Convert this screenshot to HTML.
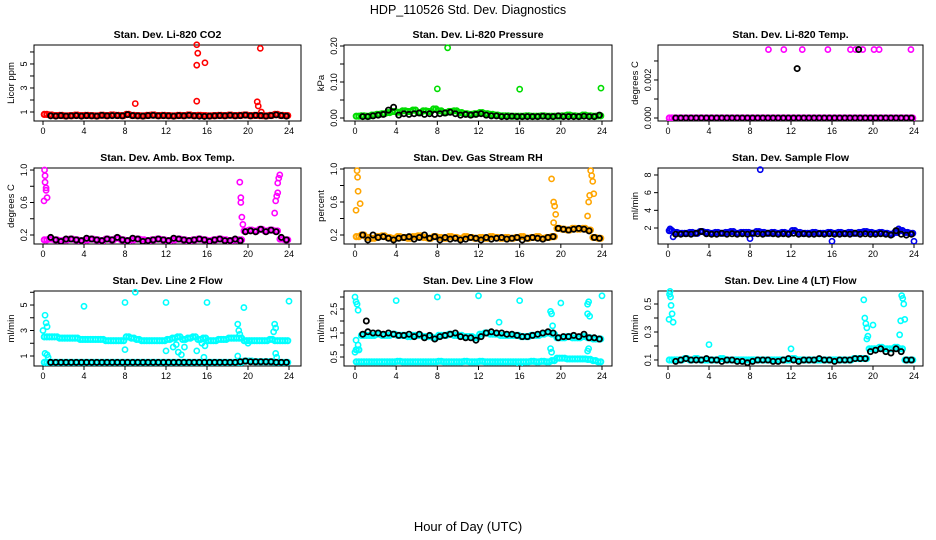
<!DOCTYPE html>
<html><head><meta charset="utf-8"><title>HDP_110526 Std. Dev. Diagnostics</title>
<style>
html,body{margin:0;padding:0;background:#fff;}
svg{display:block;font-family:"Liberation Sans",Arial,sans-serif;}
</style></head>
<body>
<svg id="chart" width="936" height="540" viewBox="0 0 936 540" xmlns="http://www.w3.org/2000/svg">
<text x="468" y="14" text-anchor="middle" font-size="12.5">HDP_110526  Std. Dev. Diagnostics</text>
<text x="468" y="531" text-anchor="middle" font-size="13">Hour of Day (UTC)</text>
</svg>
<script>
const hours=[0.25,0.75,1.25,1.75,2.25,2.75,3.25,3.75,4.25,4.75,5.25,5.75,6.25,6.75,7.25,7.75,8.25,8.75,9.25,9.75,10.25,10.75,11.25,11.75,12.25,12.75,13.25,13.75,14.25,14.75,15.25,15.75,16.25,16.75,17.25,17.75,18.25,18.75,19.25,19.75,20.25,20.75,21.25,21.75,22.25,22.75,23.25,23.75];
const xTicks=[0,4,8,12,16,20,24];

const co2Base=[0.8,0.75,0.7,0.72,0.68,0.7,0.74,0.7,0.72,0.7,0.68,0.73,0.7,0.75,0.72,0.7,0.8,0.72,0.7,0.68,0.72,0.75,0.7,0.72,0.7,0.68,0.72,0.7,0.75,0.7,0.72,0.7,0.68,0.7,0.72,0.7,0.74,0.7,0.72,0.75,0.7,0.72,0.7,0.68,0.72,0.8,0.72,0.7];
const co2Mean=[0.7,0.68,0.66,0.7,0.66,0.68,0.7,0.66,0.7,0.68,0.66,0.72,0.68,0.7,0.7,0.68,0.78,0.7,0.68,0.66,0.7,0.72,0.68,0.7,0.68,0.66,0.7,0.68,0.72,0.68,0.66,0.64,0.66,0.68,0.7,0.68,0.72,0.68,0.7,0.74,0.68,0.72,0.7,0.66,0.7,0.76,0.7,0.66];
const co2OutX=[9.0,15.0,15.1,15.0,15.8,15.0,20.9,21.0,21.2,21.3];
const co2OutY=[1.7,6.6,5.9,4.9,5.1,1.9,1.85,1.5,6.3,1.0];

const presBase=[0.005,0.006,0.005,0.008,0.01,0.012,0.015,0.018,0.016,0.02,0.018,0.022,0.015,0.02,0.018,0.025,0.02,0.015,0.018,0.02,0.015,0.012,0.01,0.012,0.015,0.012,0.01,0.008,0.006,0.006,0.005,0.005,0.005,0.006,0.005,0.005,0.006,0.005,0.005,0.005,0.006,0.008,0.006,0.005,0.008,0.006,0.005,0.006];
const presMean=[0.004,0.004,0.004,0.006,0.008,0.01,0.022,0.03,0.008,0.012,0.01,0.012,0.014,0.01,0.012,0.01,0.012,0.014,0.016,0.012,0.008,0.01,0.008,0.01,0.012,0.008,0.006,0.006,0.004,0.004,0.005,0.004,0.004,0.004,0.004,0.004,0.005,0.004,0.004,0.006,0.004,0.004,0.004,0.004,0.005,0.004,0.004,0.008];
const presOutX=[9.0,8.0,16.0,23.9];
const presOutY=[0.195,0.081,0.08,0.083];

const tempBase=[0,0,0,0,0,0,0,0,0,0,0,0,0,0,0,0,0,0,0,0,0,0,0,0,0,0,0,0,0,0,0,0,0,0,0,0,0,0,0,0,0,0,0,0,0,0,0,0];
const tempMean=[0,0,0,0,0,0,0,0,0,0,0,0,0,0,0,0,0,0,0,0,0,0,0,0,0,0,0,0,0,0,0,0,0,0,0,0,0,0,0,0,0,0,0,0,0,0,0,0];
const tempOutX=[9.8,11.3,13.1,15.6,17.8,18.3,19.0,20.1,20.6,23.7];
const tempOutY=[0.0036,0.0036,0.0036,0.0036,0.0036,0.0036,0.0036,0.0036,0.0036,0.0036];
const tempMeanOutX=[12.6,18.6];
const tempMeanOutY=[0.0026,0.0036];

const ambBase=[0.14,0.15,0.14,0.13,0.14,0.15,0.14,0.13,0.14,0.15,0.14,0.13,0.15,0.14,0.16,0.14,0.13,0.14,0.15,0.14,0.13,0.14,0.15,0.14,0.13,0.14,0.15,0.14,0.13,0.14,0.15,0.14,0.13,0.14,0.15,0.14,0.13,0.14,0.14,0.25,0.26,0.25,0.27,0.25,0.26,0.25,0.15,0.14];
const ambMean=[0.14,0.17,0.14,0.12,0.15,0.15,0.14,0.13,0.16,0.15,0.14,0.13,0.15,0.14,0.17,0.14,0.13,0.16,0.15,0.12,0.13,0.14,0.15,0.14,0.13,0.16,0.15,0.14,0.13,0.14,0.15,0.14,0.12,0.14,0.15,0.13,0.13,0.15,0.13,0.24,0.25,0.24,0.27,0.24,0.26,0.24,0.17,0.14];
const ambOutX=[0.1,0.15,0.2,0.2,0.3,0.3,0.4,19.2,19.3,19.3,19.4,19.5,22.6,22.7,22.8,22.9,22.9,23.0,23.1];
const ambOutY=[0.62,1.0,0.93,0.85,0.75,0.78,0.66,0.85,0.66,0.6,0.42,0.33,0.47,0.62,0.68,0.72,0.84,0.9,0.94];

const rhBase=[0.18,0.2,0.17,0.16,0.18,0.19,0.17,0.16,0.18,0.17,0.16,0.18,0.19,0.17,0.16,0.18,0.17,0.16,0.18,0.17,0.16,0.18,0.17,0.16,0.17,0.16,0.18,0.17,0.16,0.17,0.16,0.17,0.18,0.16,0.17,0.18,0.16,0.17,0.18,0.28,0.27,0.26,0.28,0.27,0.28,0.26,0.17,0.16];
const rhMean=[0.17,0.2,0.14,0.2,0.17,0.18,0.16,0.14,0.16,0.17,0.18,0.15,0.17,0.2,0.16,0.18,0.14,0.17,0.15,0.16,0.14,0.15,0.17,0.16,0.14,0.17,0.15,0.16,0.17,0.15,0.16,0.17,0.14,0.16,0.17,0.16,0.15,0.17,0.18,0.28,0.27,0.26,0.27,0.28,0.27,0.25,0.17,0.16];
const rhOutX=[0.1,0.2,0.25,0.3,0.5,19.1,19.3,19.4,19.5,19.3,22.6,22.7,22.8,22.9,23.0,23.1,23.2];
const rhOutY=[0.5,0.98,0.9,0.73,0.58,0.88,0.6,0.55,0.45,0.35,0.43,0.6,0.68,0.98,0.92,0.85,0.7];

const flowBase=[1.7,1.5,1.4,1.4,1.5,1.4,1.6,1.5,1.4,1.5,1.4,1.5,1.6,1.4,1.5,1.5,1.4,1.6,1.5,1.4,1.5,1.4,1.5,1.4,1.7,1.5,1.4,1.4,1.5,1.4,1.4,1.5,1.4,1.5,1.4,1.5,1.4,1.5,1.6,1.5,1.4,1.5,1.4,1.3,1.5,1.7,1.5,1.4];
const flowMean=[1.6,1.3,1.3,1.35,1.3,1.4,1.6,1.35,1.3,1.3,1.4,1.3,1.35,1.3,1.35,1.3,1.4,1.35,1.3,1.4,1.35,1.3,1.35,1.3,1.4,1.3,1.35,1.3,1.3,1.35,1.3,1.35,1.3,1.3,1.35,1.3,1.4,1.3,1.35,1.3,1.3,1.35,1.3,1.2,1.7,1.3,1.2,1.3];
const flowOutX=[9.0,8.0,16.0,24.0,0.2,22.5,0.5];
const flowOutY=[8.6,0.8,0.5,0.5,1.9,1.9,1.0];

const line2Base=[2.5,2.5,2.5,2.4,2.4,2.4,2.4,2.3,2.3,2.3,2.3,2.3,2.2,2.2,2.2,2.2,2.5,2.4,2.3,2.2,2.2,2.2,2.2,2.2,2.3,2.4,2.5,2.3,2.4,2.5,2.3,2.4,2.2,2.2,2.3,2.3,2.4,2.4,2.4,2.2,2.2,2.2,2.2,2.2,2.3,2.2,2.2,2.2];
const line2Low=[0.5,0.5,0.5,0.5,0.5,0.5,0.5,0.5,0.5,0.5,0.5,0.5,0.5,0.5,0.5,0.5,0.5,0.5,0.5,0.5,0.5,0.5,0.5,0.5,0.5,0.5,0.5,0.5,0.5,0.5,0.5,0.5,0.5,0.5,0.5,0.5,0.5,0.5,0.5,0.6,0.6,0.55,0.55,0.55,0.55,0.5,0.5,0.5];
const line2Mean=[0.5,0.5,0.5,0.5,0.5,0.5,0.5,0.5,0.5,0.5,0.5,0.5,0.5,0.5,0.5,0.5,0.5,0.5,0.5,0.5,0.5,0.5,0.5,0.5,0.5,0.5,0.5,0.5,0.5,0.5,0.5,0.5,0.5,0.5,0.5,0.5,0.5,0.5,0.55,0.6,0.55,0.55,0.55,0.55,0.55,0.5,0.5,0.5];
const line2OutX=[0.0,0.2,0.3,0.4,0.2,0.4,0.5,4.0,8.0,9.0,8.0,12.0,12.0,13.0,13.5,13.8,15.0,15.5,15.8,16.0,15.7,19.0,19.1,19.2,19.0,19.6,20.0,22.5,22.6,22.7,22.7,22.8,24.0,12.7,13.2];
const line2OutY=[3.0,4.2,3.6,3.3,1.2,1.1,0.9,4.9,5.2,6.0,1.5,5.2,1.4,1.9,1.1,1.7,1.4,2.0,1.8,5.2,0.9,3.5,3.0,2.7,1.0,4.8,2.0,2.9,3.5,3.2,1.2,0.9,5.3,1.7,1.3];

const line3Base=[0.8,1.4,1.4,1.4,1.45,1.4,1.4,1.45,1.4,1.4,1.35,1.4,1.4,1.35,1.35,1.3,1.4,1.4,1.45,1.4,1.4,1.35,1.35,1.3,1.45,1.5,1.45,1.45,1.4,1.4,1.4,1.4,1.35,1.35,1.4,1.4,1.45,1.5,1.45,1.3,1.3,1.35,1.3,1.3,1.35,1.3,1.25,1.25];
const line3Low=[0.3,0.3,0.3,0.3,0.3,0.3,0.3,0.3,0.32,0.3,0.3,0.3,0.3,0.3,0.3,0.3,0.32,0.3,0.3,0.3,0.3,0.32,0.3,0.3,0.32,0.3,0.3,0.3,0.3,0.3,0.3,0.3,0.3,0.3,0.32,0.3,0.32,0.3,0.35,0.45,0.45,0.42,0.42,0.42,0.42,0.4,0.35,0.3];
const line3Mean=[1.3,1.45,1.55,1.5,1.5,1.45,1.5,1.45,1.4,1.4,1.45,1.35,1.45,1.3,1.4,1.25,1.35,1.4,1.45,1.5,1.35,1.3,1.3,1.2,1.35,1.5,1.55,1.5,1.5,1.45,1.45,1.4,1.35,1.35,1.4,1.45,1.5,1.55,1.5,1.3,1.35,1.35,1.4,1.35,1.45,1.3,1.3,1.25];
const line3OutX=[0.0,0.1,0.2,0.3,0.0,0.1,0.3,4.0,8.0,12.0,14.0,16.0,19.0,19.1,19.0,19.1,19.2,20.0,22.6,22.7,22.6,22.8,22.7,22.6,24.0,16.0];
const line3OutY=[3.0,2.8,2.7,2.45,0.7,1.2,1.0,2.85,3.0,3.05,1.95,2.85,2.4,2.3,0.85,0.7,1.8,2.75,2.7,2.8,2.3,2.2,0.85,0.75,3.05,0.12];
const line3MeanOutX=[1.1];
const line3MeanOutY=[2.0];

const line4Base=[0.1,0.1,0.1,0.11,0.1,0.11,0.1,0.1,0.1,0.1,0.11,0.1,0.1,0.1,0.1,0.1,0.1,0.1,0.1,0.1,0.1,0.1,0.1,0.1,0.11,0.1,0.1,0.1,0.1,0.1,0.1,0.1,0.1,0.1,0.1,0.1,0.11,0.11,0.11,0.18,0.18,0.19,0.18,0.18,0.19,0.18,0.1,0.1];
const line4Mean=[0.09,0.09,0.1,0.11,0.1,0.1,0.1,0.11,0.1,0.1,0.09,0.1,0.1,0.09,0.09,0.08,0.09,0.1,0.1,0.1,0.09,0.09,0.1,0.11,0.1,0.09,0.1,0.1,0.1,0.11,0.1,0.1,0.09,0.1,0.1,0.1,0.11,0.11,0.11,0.16,0.17,0.18,0.16,0.15,0.18,0.16,0.1,0.1];
const line4OutX=[0.1,0.15,0.2,0.25,0.3,0.4,0.5,4.0,12.0,19.1,19.2,19.3,19.4,19.5,19.4,20.0,22.6,22.7,22.8,22.9,23.0,23.1];
const line4OutY=[0.39,0.57,0.59,0.55,0.49,0.43,0.37,0.21,0.18,0.53,0.4,0.36,0.33,0.27,0.25,0.35,0.28,0.38,0.56,0.54,0.5,0.39];

const NS="http://www.w3.org/2000/svg";
const svg=document.getElementById('chart');
const cols=[{bx0:34,bx1:301,h0:43,h24:289},{bx0:344,bx1:612,h0:355,h24:602},{bx0:658,bx1:923,h0:668,h24:914}];
const rows=[{by0:45,by1:121},{by0:168,by1:244},{by0:291,by1:366}];

const panels=[
 {name:'co2',title:'Stan. Dev. Li-820 CO2',ylab:'Licor ppm',c:0,r:0,dom:[0.25,6.58],ticks:[1,2,3,4,5,6],labels:[1,3,5],fmt:0,color:'#ff0000',series:[co2Base],mean:co2Mean,ox:co2OutX,oy:co2OutY},
 {name:'pressure',title:'Stan. Dev. Li-820 Pressure',ylab:'kPa',c:1,r:0,dom:[-0.0083,0.2028],ticks:[0,0.05,0.1,0.15,0.2],labels:[0,0.1,0.2],fmt:2,color:'#00dd00',series:[presBase],mean:presMean,ox:presOutX,oy:presOutY},
 {name:'temp',title:'Stan. Dev. Li-820 Temp.',ylab:'degrees C',c:2,r:0,dom:[-0.000158,0.00384],ticks:[0,0.001,0.002,0.003],labels:[0,0.002],fmt:3,color:'#ff00ff',series:[tempBase],mean:tempMean,ox:tempOutX,oy:tempOutY,mx:tempMeanOutX,my:tempMeanOutY},
 {name:'amb-box-temp',title:'Stan. Dev. Amb. Box Temp.',ylab:'degrees C',c:0,r:1,dom:[0.089,1.025],ticks:[0.2,0.4,0.6,0.8,1.0],labels:[0.2,0.6,1.0],fmt:1,color:'#ff00ff',series:[ambBase],mean:ambMean,ox:ambOutX,oy:ambOutY},
 {name:'gas-stream-rh',title:'Stan. Dev. Gas Stream RH',ylab:'percent',c:1,r:1,dom:[0.091,1.012],ticks:[0.2,0.4,0.6,0.8,1.0],labels:[0.2,0.6,1.0],fmt:1,color:'#ffa500',series:[rhBase],mean:rhMean,ox:rhOutX,oy:rhOutY},
 {name:'sample-flow',title:'Stan. Dev. Sample Flow',ylab:'ml/min',c:2,r:1,dom:[0.19,8.79],ticks:[2,4,6,8],labels:[2,4,6,8],fmt:0,color:'#0000ee',series:[flowBase],mean:flowMean,ox:flowOutX,oy:flowOutY},
 {name:'line2-flow',title:'Stan. Dev. Line 2 Flow',ylab:'ml/min',c:0,r:2,dom:[0.216,6.1],ticks:[1,2,3,4,5,6],labels:[1,3,5],fmt:0,color:'#00ffff',series:[line2Base,line2Low],mean:line2Mean,ox:line2OutX,oy:line2OutY},
 {name:'line3-flow',title:'Stan. Dev. Line 3 Flow',ylab:'ml/min',c:1,r:2,dom:[0.125,3.25],ticks:[0.5,1,1.5,2,2.5,3],labels:[0.5,1.5,2.5],fmt:1,color:'#00ffff',series:[line3Base,line3Low],mean:line3Mean,ox:line3OutX,oy:line3OutY,mx:line3MeanOutX,my:line3MeanOutY},
 {name:'line4-flow',title:'Stan. Dev. Line 4 (LT) Flow',ylab:'ml/min',c:2,r:2,dom:[0.057,0.593],ticks:[0.1,0.2,0.3,0.4,0.5],labels:[0.1,0.3,0.5],fmt:1,color:'#00ffff',series:[line4Base],mean:line4Mean,ox:line4OutX,oy:line4OutY}
];

function mk(tag,attrs,parent){const e=document.createElementNS(NS,tag);for(const k in attrs)e.setAttribute(k,attrs[k]);(parent||svg).appendChild(e);return e;}

panels.forEach(p=>{
 const C=cols[p.c],R=rows[p.r];
 const xs=h=>C.h0+(C.h24-C.h0)*h/24;
 const ys=v=>R.by1-(v-p.dom[0])/(p.dom[1]-p.dom[0])*(R.by1-R.by0);
 const g=mk('g',{});
 
 
 const t=mk('text',{x:(C.bx0+C.bx1)/2,y:R.by0-7,'text-anchor':'middle','font-size':'10.5','font-weight':'bold'},g);
 t.textContent=p.title;
 
 
 const box=mk('rect',{x:C.bx0,y:R.by0,width:C.bx1-C.bx0,height:R.by1-R.by0,fill:'none',stroke:'#000','stroke-width':1},g);
 
 
 const yl=mk('text',{transform:`translate(${C.bx0-20},${(R.by0+R.by1)/2}) rotate(-90)`,'text-anchor':'middle','font-size':'9.5'},g);
 yl.textContent=p.ylab;
 
 
 xTicks.forEach(h=>{
  const tk=mk('line',{x1:xs(h),x2:xs(h),y1:R.by1,y2:R.by1+4,stroke:'#000'},g);
  
  
  const tl=mk('text',{x:xs(h),y:R.by1+13,'text-anchor':'middle','font-size':'9'},g);
  tl.textContent=h;
  
  
 });
 p.ticks.forEach(v=>{
  const tk=mk('line',{x1:C.bx0-4,x2:C.bx0,y1:ys(v),y2:ys(v),stroke:'#000'},g);
  
  
 });
 p.labels.forEach(v=>{
  const tl=mk('text',{transform:`translate(${C.bx0-7},${ys(v)}) rotate(-90)`,'text-anchor':'middle','font-size':'9'},g);
  tl.textContent=v.toFixed(p.fmt);
  
  
 });
 const clip='clip-'+p.name;
 const cp=mk('clipPath',{id:clip},g);
 mk('rect',{x:C.bx0,y:R.by0-4,width:C.bx1-C.bx0+4,height:R.by1-R.by0+4},cp);
 const pts=mk('g',{'clip-path':`url(#${clip})`},g);
 const dot=(h,v,col,nm,sw)=>{
  const c=mk('circle',{cx:xs(h),cy:ys(v),r:2.6,fill:'none',stroke:col,'stroke-width':sw},pts);
  
  
 };
 p.series.forEach(s=>{
  hours.forEach((h,i)=>{dot(h-0.125,s[i],p.color,'detail-point',2);dot(h+0.125,s[i],p.color,'detail-point',2);});
 });
 p.ox.forEach((h,i)=>dot(h,p.oy[i],p.color,'outlier-point',1.6));
 hours.forEach((h,i)=>{if(h>0.5)dot(h,p.mean[i],'#000','mean-point',1.8);});
 if(p.mx)p.mx.forEach((h,i)=>dot(h,p.my[i],'#000','mean-outlier-point',1.8));
});
</script>
</body></html>
